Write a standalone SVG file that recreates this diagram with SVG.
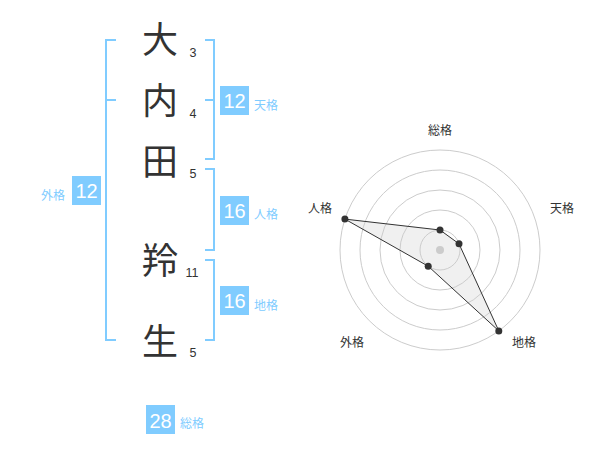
<svg xmlns="http://www.w3.org/2000/svg" width="600" height="470" viewBox="0 0 600 470">
<style>
.kanji{font-family:"Noto Sans CJK JP","Noto Sans CJK SC",sans-serif;font-size:36px;fill:#333;text-anchor:middle}
.num{font-family:"Liberation Sans",Arial,sans-serif;font-size:12.5px;fill:#333;text-anchor:middle}
.box{fill:#80ccff}
.boxnum{font-family:"Liberation Sans",Arial,sans-serif;font-size:20px;fill:#fff;text-anchor:middle}
.lbl{font-family:"Noto Sans CJK JP","Noto Sans CJK SC",sans-serif;font-size:12px;fill:#80ccff;text-anchor:middle}
.br{fill:none;stroke:#80ccff;stroke-width:2}
.ring{fill:none;stroke:#cccccc;stroke-width:1}
.axl{font-family:"Noto Sans CJK JP","Noto Sans CJK SC",sans-serif;font-size:12px;fill:#333;text-anchor:middle}
.pt{fill:#333}
</style>
<rect width="600" height="470" fill="#fff"/>
<g id="connectors">
<path class="br" d="M116,40 H106 V340 H116 M106,100 H116"/>
<path class="br" d="M205,40 H214 V159 H205 M205,100 H214"/>
<path class="br" d="M205,169 H214 V250 H205"/>
<path class="br" d="M205,260 H214 V340 H205"/>
</g>
<g id="char-1"><text class="kanji" x="160" y="53">大</text><text class="num" x="193" y="56.5">3</text></g>
<g id="char-2"><text class="kanji" x="160" y="114">内</text><text class="num" x="193" y="117.5">4</text></g>
<g id="char-3"><text class="kanji" x="160" y="175">田</text><text class="num" x="193" y="177.5">5</text></g>
<g id="char-4"><text class="kanji" x="160" y="274">羚</text><text class="num" x="192" y="277">11</text></g>
<g id="char-5"><text class="kanji" x="160" y="355">生</text><text class="num" x="193" y="357">5</text></g>
<g id="tenkaku"><rect class="box" x="220" y="86" width="29" height="29"/><text class="boxnum" x="234.5" y="108.3">12</text><text class="lbl" x="266" y="109.5">天格</text></g>
<g id="jinkaku"><rect class="box" x="220" y="196" width="29" height="29"/><text class="boxnum" x="234.5" y="218.3">16</text><text class="lbl" x="266" y="219">人格</text></g>
<g id="chikaku"><rect class="box" x="220" y="286" width="29" height="29"/><text class="boxnum" x="234.5" y="308.3">16</text><text class="lbl" x="266" y="309.5">地格</text></g>
<g id="gaikaku"><rect class="box" x="72" y="176" width="29" height="29"/><text class="boxnum" x="86.5" y="198.3">12</text><text class="lbl" x="53" y="199.5">外格</text></g>
<g id="soukaku"><rect class="box" x="146" y="405" width="29" height="29"/><text class="boxnum" x="160.5" y="427.5">28</text><text class="lbl" x="192" y="427.5">総格</text></g>
<g id="radar">
<circle class="ring" cx="440" cy="250" r="20"/>
<circle class="ring" cx="440" cy="250" r="40"/>
<circle class="ring" cx="440" cy="250" r="60"/>
<circle class="ring" cx="440" cy="250" r="80"/>
<circle class="ring" cx="440" cy="250" r="100"/>
<circle cx="440" cy="250" r="4" fill="#cccccc"/>
<polygon points="440,230 459,243.8 498.8,330.9 428.2,266.2 344.9,219.1" fill="#cccccc" fill-opacity="0.3" stroke="#333" stroke-width="1"/>
<circle class="pt" cx="440" cy="230" r="3.5"/>
<circle class="pt" cx="459" cy="243.8" r="3.5"/>
<circle class="pt" cx="498.8" cy="330.9" r="3.5"/>
<circle class="pt" cx="428.2" cy="266.2" r="3.5"/>
<circle class="pt" cx="344.9" cy="219.1" r="3.5"/>
<text class="axl" x="440" y="134.5">総格</text>
<text class="axl" x="562" y="212.5">天格</text>
<text class="axl" x="320" y="212.5">人格</text>
<text class="axl" x="352" y="346.5">外格</text>
<text class="axl" x="524" y="346.5">地格</text>
</g>
</svg>
